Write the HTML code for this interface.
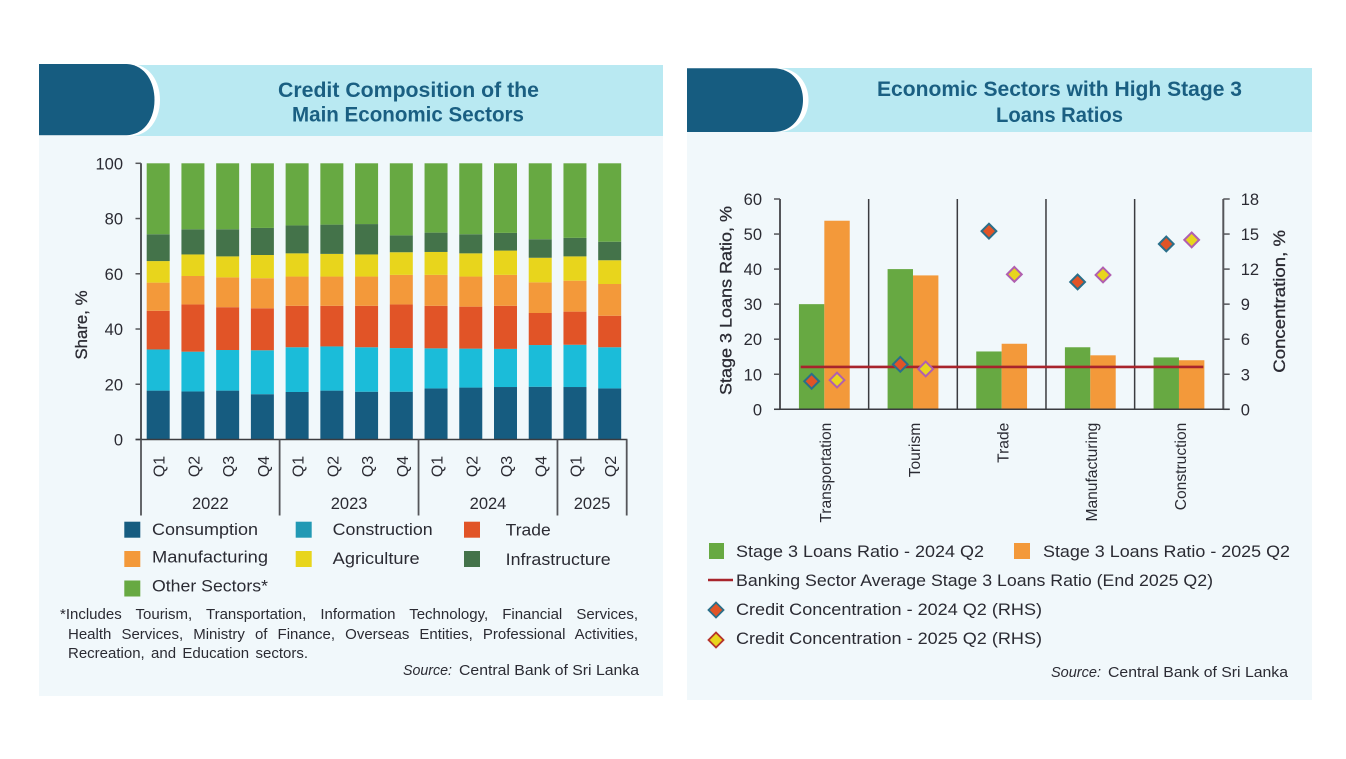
<!DOCTYPE html>
<html lang="en">
<head>
<meta charset="utf-8">
<title>Credit Composition and Stage 3 Loans Ratios</title>
<style>
  html, body { margin: 0; padding: 0; background: #ffffff; }
  #stage { position: relative; width: 1346px; height: 759px; overflow: hidden; font-family: "Liberation Sans", sans-serif; }
  svg { position: absolute; left: 0; top: 0; }
  svg text { font-family: "Liberation Sans", sans-serif; fill: #2b2b33; }
  .title { font-size: 21px; font-weight: bold; fill: #1a5f82; text-anchor: middle; }
  .leg { font-size: 16.5px; }
  .src { font-size: 14.5px; }
  .note { position: absolute; font-size: 15px; line-height: 18px; height: 18px; color: #2b2b33; text-align: justify; text-align-last: justify; white-space: nowrap; }
</style>
</head>
<body>
<div id="stage">
<svg id="svg" width="1346" height="759" viewBox="0 0 1346 759" xmlns="http://www.w3.org/2000/svg">
  <rect x="39" y="65" width="624" height="631" fill="#f1f8fb"/>
  <rect x="39" y="65" width="624" height="71" fill="#b9e9f2"/>
  <path d="M39,64 H130 C150,64 160,82 160,100 C160,118 150,136 130,136 H39 Z" fill="#ffffff"/>
  <path d="M39,64 H125 C145,64 154.5,82 154.5,100 C154.5,118 145,135.3 125,135.3 H39 Z" fill="#165c80"/>
  <text class="title" x="408.5" y="97" textLength="261" lengthAdjust="spacingAndGlyphs">Credit Composition of the</text>
  <text class="title" x="408" y="121.500" textLength="232" lengthAdjust="spacingAndGlyphs">Main Economic Sectors</text>

  <rect x="687" y="68" width="625" height="632" fill="#f1f8fb"/>
  <rect x="687" y="68" width="625" height="64" fill="#b9e9f2"/>
  <path d="M687,68 H778 C798,68 808.500,84 808.500,100 C808.500,116 798,132 778,132 H687 Z" fill="#ffffff"/>
  <path d="M687,68.300 H773 C793,68.300 803,84 803,100 C803,116 793,132 773,132 H687 Z" fill="#165c80"/>
  <text class="title" x="1059.500" y="96" textLength="365" lengthAdjust="spacingAndGlyphs">Economic Sectors with High Stage 3</text>
  <text class="title" x="1059.500" y="122" textLength="127" lengthAdjust="spacingAndGlyphs">Loans Ratios</text>

  <g id="left-chart"></g>
  <g id="right-chart"></g>

  <g>
    <rect x="124.300" y="521.700" width="16" height="16" fill="#165c80"/>
    <text class="leg" x="152" y="535" textLength="106" lengthAdjust="spacingAndGlyphs">Consumption</text>
    <rect x="295.700" y="521.700" width="16" height="16" fill="#2299b4"/>
    <text class="leg" x="332.700" y="535" textLength="100" lengthAdjust="spacingAndGlyphs">Construction</text>
    <rect x="464" y="521.700" width="16" height="16" fill="#e15427"/>
    <text class="leg" x="505.700" y="535.500" textLength="45" lengthAdjust="spacingAndGlyphs">Trade</text>
    <rect x="124.300" y="551" width="16" height="16" fill="#f3993a"/>
    <text class="leg" x="152" y="562.700" textLength="116" lengthAdjust="spacingAndGlyphs">Manufacturing</text>
    <rect x="295.700" y="551" width="16" height="16" fill="#e8d51c"/>
    <text class="leg" x="332.700" y="564" textLength="87" lengthAdjust="spacingAndGlyphs">Agriculture</text>
    <rect x="464" y="551" width="16" height="16" fill="#44734a"/>
    <text class="leg" x="505.700" y="565" textLength="105" lengthAdjust="spacingAndGlyphs">Infrastructure</text>
    <rect x="124.300" y="580.500" width="16" height="16" fill="#67a942"/>
    <text class="leg" x="152" y="591.700" textLength="116" lengthAdjust="spacingAndGlyphs">Other Sectors*</text>
  </g>

  <text class="src" x="403" y="675" textLength="49" lengthAdjust="spacingAndGlyphs" font-style="italic">Source:</text>
  <text class="src" x="459" y="675" textLength="180" lengthAdjust="spacingAndGlyphs">Central Bank of Sri Lanka</text>

  <g>
    <rect x="709" y="543" width="15" height="16" fill="#67a942"/>
    <text class="leg" x="736" y="557" textLength="248" lengthAdjust="spacingAndGlyphs">Stage 3 Loans Ratio - 2024 Q2</text>
    <rect x="1014" y="543" width="16" height="16" fill="#f3993a"/>
    <text class="leg" x="1043" y="557" textLength="247" lengthAdjust="spacingAndGlyphs">Stage 3 Loans Ratio - 2025 Q2</text>
    <line x1="708" x2="733" y1="580" y2="580" stroke="#a8242c" stroke-width="2.500"/>
    <text class="leg" x="736" y="586" textLength="477" lengthAdjust="spacingAndGlyphs">Banking Sector Average Stage 3 Loans Ratio (End 2025 Q2)</text>
    <path d="M716,602.500 L723.500,610 L716,617.500 L708.500,610 Z" fill="#e15427" stroke="#2a6f8a" stroke-width="1.800"/>
    <text class="leg" x="736" y="615" textLength="306" lengthAdjust="spacingAndGlyphs">Credit Concentration - 2024 Q2 (RHS)</text>
    <path d="M716,632.500 L723.500,640 L716,647.500 L708.500,640 Z" fill="#e8d51c" stroke="#b5342b" stroke-width="1.800"/>
    <text class="leg" x="736" y="644" textLength="306" lengthAdjust="spacingAndGlyphs">Credit Concentration - 2025 Q2 (RHS)</text>
  </g>
  <text class="src" x="1051" y="677" textLength="50" lengthAdjust="spacingAndGlyphs" font-style="italic">Source:</text>
  <text class="src" x="1108" y="677" textLength="180" lengthAdjust="spacingAndGlyphs">Central Bank of Sri Lanka</text>
</svg>
<div class="note" style="left:60px;top:606px;width:578px;">*Includes Tourism, Transportation, Information Technology, Financial Services,</div>
<div class="note" style="left:68px;top:626px;width:570px;">Health Services, Ministry of Finance, Overseas Entities, Professional Activities,</div>
<div class="note" style="left:68px;top:645px;width:240px;">Recreation, and Education sectors.</div>
</div>

<script>
// ---- Left chart data ----
const quarters = ['Q1','Q2','Q3','Q4','Q1','Q2','Q3','Q4','Q1','Q2','Q3','Q4','Q1','Q2'];
const yearLabels = ['2022','2023','2024','2025'];
const yearQuarterCounts = [4,4,4,2];
const shareTicks = [0,20,40,60,80,100];
const consumption = [17.7,17.4,17.7,16.4,17.2,17.7,17.3,17.3,18.5,18.8,19.0,19.1,19.0,18.5];
const construction = [14.9,14.4,14.7,15.9,16.2,16.0,16.1,15.8,14.5,14.1,13.8,15.1,15.3,14.9];
const trade = [14.0,17.1,15.5,15.2,15.0,14.7,15.0,15.8,15.4,15.2,15.6,11.6,12.0,11.4];
const manufacturing = [10.2,10.3,10.8,10.9,10.6,10.6,10.6,10.7,11.2,10.9,11.2,11.1,11.2,11.5];
const agriculture = [7.8,7.8,7.6,8.4,8.4,8.2,8.0,8.2,8.3,8.4,8.8,8.9,8.8,8.6];
const infrastructure = [9.7,9.1,9.8,9.8,10.1,10.6,11.0,6.1,7.0,6.9,6.4,6.7,6.7,6.7];
const otherSectors = [25.7,23.9,23.9,23.4,22.5,22.2,22.0,26.1,25.1,25.7,25.2,27.5,27.0,28.4];

// ---- Right chart data ----
const sectors = ['Transportation','Tourism','Trade','Manufacturing','Construction'];
const ratioTicks = [0,10,20,30,40,50,60];
const concentrationTicks = [0,3,6,9,12,15,18];
const ratio2024 = [30.0,40.0,16.5,17.7,14.8];
const ratio2025 = [53.8,38.2,18.7,15.4,14.0];
const concentration2024 = [2.4,3.85,15.25,10.9,14.15];
const concentration2025 = [2.5,3.45,11.55,11.5,14.5];
const bankingAverage = 12.1;

const NS = 'http://www.w3.org/2000/svg';
function make(tag, attrs, parent, content) {
  const node = document.createElementNS(NS, tag);
  for (const k in attrs) node.setAttribute(k, attrs[k]);
  if (content !== undefined) node.textContent = content;
  parent.appendChild(node);
  return node;
}
const AXIS = '#55565a';

// ======== LEFT CHART ========
(function () {
  const g = document.getElementById('left-chart');
  const x0 = 141, x1 = 626.7, yBase = 439.5, yTop = 163.3;
  const firstBar = 146.7, pitch = 34.73, barW = 23;
  const yScale = v => yBase - (v / 100) * (yBase - yTop);
  const series = [
    ['consumption', consumption, '#165c80'],
    ['construction', construction, '#1bbcd9'],
    ['trade', trade, '#e15427'],
    ['manufacturing', manufacturing, '#f3993a'],
    ['agriculture', agriculture, '#e8d51c'],
    ['infrastructure', infrastructure, '#44734a'],
    ['other-sectors', otherSectors, '#67a942']
  ];
  quarters.forEach((q, i) => {
    let cum = 0;
    series.forEach(s => {
      const top = yScale(cum + s[1][i]);
      const bottom = yScale(cum);
      const r = make('rect', { x: firstBar + i * pitch, y: top, width: barW, height: bottom - top, fill: s[2] }, g);
      
      
      cum += s[1][i];
    });
    const t = make('text', { transform: 'translate(' + (firstBar + i * pitch + barW / 2 + 6.5) + ',466.5) rotate(-90)', 'text-anchor': 'middle', 'font-size': 16 }, g, q);
    
    
  });

  shareTicks.forEach(v => {
    const y = yScale(v);
    const tick = make('line', { x1: 135.5, x2: x0, y1: y, y2: y, stroke: AXIS, 'stroke-width': 1.5 }, g);
    
    
    const lab = make('text', { x: 123, y: y + 6, 'text-anchor': 'end', 'font-size': 16.5 }, g, String(v));
    
    
  });
  const yAxis = make('line', { x1: x0, x2: x0, y1: yTop, y2: yBase, stroke: AXIS, 'stroke-width': 2 }, g);
  
  
  const xAxis = make('line', { x1: 135.5, x2: x1 + 0.7, y1: yBase, y2: yBase, stroke: '#3b3c40', 'stroke-width': 1.5 }, g);
  
  

  let start = 0;
  const divider = (x, n) => {
    const d = make('line', { x1: x, x2: x, y1: yBase, y2: 515.5, stroke: AXIS, 'stroke-width': 1.8 }, g);
    
    
  };
  divider(x0, 0);
  yearLabels.forEach((yr, k) => {
    const end = start + yearQuarterCounts[k];
    const xl = start === 0 ? x0 : firstBar + start * pitch - 6;
    const xr = end === quarters.length ? x1 : firstBar + end * pitch - 6;
    divider(xr, k + 1);
    const t = make('text', { x: (xl + xr) / 2, y: 509, 'text-anchor': 'middle', 'font-size': 16.5 }, g, yr);
    
    
    start = end;
  });

  const title = make('text', { transform: 'translate(87,359.5) rotate(-90)', 'font-size': 17, textLength: 69, lengthAdjust: 'spacingAndGlyphs', style: 'stroke:#2b2b33;stroke-width:0.3' }, g, 'Share, %');
  
  
})();

// ======== RIGHT CHART ========
(function () {
  const g = document.getElementById('right-chart');
  const xL = 780, xR = 1223.3, yBase = 409.3, yTop = 199;
  const band = (xR - xL) / sectors.length;
  const barW = 25.4;
  const yLeft = v => yBase - (v / ratioTicks[ratioTicks.length - 1]) * (yBase - yTop);
  const yRight = v => yBase - (v / concentrationTicks[concentrationTicks.length - 1]) * (yBase - yTop);
  const centre = i => xL + band * (i + 0.5);

  sectors.forEach((name, i) => {
    const c = centre(i);
    const a = make('rect', { x: c - barW, y: yLeft(ratio2024[i]), width: barW, height: yBase - yLeft(ratio2024[i]), fill: '#67a942' }, g);
    
    
    const b = make('rect', { x: c, y: yLeft(ratio2025[i]), width: barW, height: yBase - yLeft(ratio2025[i]), fill: '#f3993a' }, g);
    
    
    const lab = make('text', { transform: 'translate(' + (c + 6.8) + ',422.7) rotate(-90)', 'text-anchor': 'end', 'font-size': 15.6 }, g, name);
    
    
    if (i > 0) {
      const sep = make('line', { x1: xL + band * i, x2: xL + band * i, y1: yTop, y2: yBase, stroke: '#3b3c40', 'stroke-width': 1.5 }, g);
      
      
    }
  });

  const avg = make('line', { x1: 800.7, x2: 1203.3, y1: yLeft(bankingAverage), y2: yLeft(bankingAverage), stroke: '#a8242c', 'stroke-width': 2.6 }, g);
  
  

  const diamond = (cx, cy, fill, stroke) => make('path', {
    d: 'M' + cx + ',' + (cy - 7.4) + ' L' + (cx + 7.4) + ',' + cy + ' L' + cx + ',' + (cy + 7.4) + ' L' + (cx - 7.4) + ',' + cy + ' Z',
    fill: fill, stroke: stroke, 'stroke-width': 2
  }, g);
  sectors.forEach((name, i) => {
    const c = centre(i);
    const d1 = diamond(c - barW / 2, yRight(concentration2024[i]), '#e15427', '#2a6f8a');
    
    
    const d2 = diamond(c + barW / 2, yRight(concentration2025[i]), '#e8d51c', '#b05fb0');
    
    
  });

  ratioTicks.forEach(v => {
    const y = yLeft(v);
    const tick = make('line', { x1: 774, x2: xL, y1: y, y2: y, stroke: AXIS, 'stroke-width': 1.5 }, g);
    
    
    const lab = make('text', { x: 762, y: y + 6, 'text-anchor': 'end', 'font-size': 16.5 }, g, String(v));
    
    
  });
  concentrationTicks.forEach(v => {
    const y = yRight(v);
    const tick = make('line', { x1: xR, x2: 1229.7, y1: y, y2: y, stroke: AXIS, 'stroke-width': 1.5 }, g);
    
    
    const lab = make('text', { x: 1240.7, y: y + 6, 'font-size': 16.5 }, g, String(v));
    
    
  });
  const leftAxis = make('line', { x1: xL, x2: xL, y1: yTop, y2: yBase, stroke: AXIS, 'stroke-width': 2 }, g);
  
  
  const rightAxis = make('line', { x1: xR, x2: xR, y1: yTop, y2: yBase, stroke: AXIS, 'stroke-width': 2 }, g);
  
  
  const baseline = make('line', { x1: 774, x2: 1229.7, y1: yBase, y2: yBase, stroke: '#3b3c40', 'stroke-width': 1.5 }, g);
  
  

  const t1 = make('text', { transform: 'translate(731.7,395) rotate(-90)', 'font-size': 17, textLength: 189, lengthAdjust: 'spacingAndGlyphs', style: 'stroke:#2b2b33;stroke-width:0.3' }, g, 'Stage 3 Loans Ratio, %');
  
  
  const t2 = make('text', { transform: 'translate(1285,372.7) rotate(-90)', 'font-size': 17, textLength: 142.7, lengthAdjust: 'spacingAndGlyphs', style: 'stroke:#2b2b33;stroke-width:0.3' }, g, 'Concentration, %');
  
  
})();
</script>
</body>
</html>
